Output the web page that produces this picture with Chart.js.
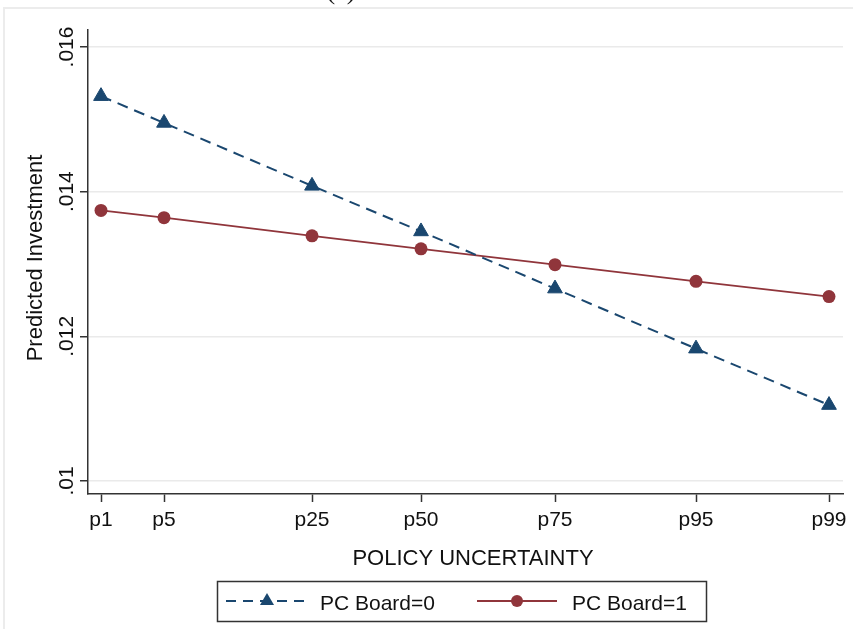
<!DOCTYPE html>
<html>
<head>
<meta charset="utf-8">
<script src="https://cdn.jsdelivr.net/npm/chart.js@4.4.1/dist/chart.umd.min.js"></script>
<style>
html, body { margin: 0; padding: 0; background: #fff; }
#wrap { position: relative; width: 853px; height: 629px; overflow: hidden; }
#frame { position: absolute; left: 3px; top: 7px; right: -5px; bottom: -5px; border-top: 2px solid #ececec; border-left: 2px solid #ececec; }
canvas { position: absolute; left: 0; top: 0; }
</style>
</head>
<body>
<div id="wrap">
  <div id="frame"></div>
  <canvas id="chart" width="853" height="629"></canvas>
</div>
<script>
// percentiles of policy uncertainty shown on the x axis
const categories = ['p1', 'p5', 'p25', 'p50', 'p75', 'p95', 'p99'];
// where each percentile sits on the (linear) uncertainty scale
const uncertaintyPos = [0, 63, 211, 320, 454, 595, 728];

// predicted investment
const pcBoard0 = [0.01532, 0.01495, 0.01408, 0.01345, 0.01266, 0.01183, 0.01105];
const pcBoard1 = [0.01374, 0.01364, 0.01339, 0.01321, 0.01299, 0.01276, 0.01255];

const yTicks = [0.010, 0.012, 0.014, 0.016];
const yTickLabels = ['.01', '.012', '.014', '.016'];

const NAVY = '#1a476f';
const MAROON = '#90353b';
const FONT = '"Liberation Sans", Arial, sans-serif';

function points(vals) {
    return vals.map((v, i) => ({ x: uncertaintyPos[i], y: v }));
}

// rotated y tick labels, axis titles, boxed legend
const stataExtras = {
    id: 'stataExtras',
    afterDraw: (chart) => {
        const ctx = chart.ctx;
        const area = chart.chartArea;
        const yAxis = chart.scales.y;
        ctx.save();
        ctx.fillStyle = '#111';

        // y tick labels, reading bottom to top
        ctx.font = '21px ' + FONT;
        ctx.textAlign = 'center';
        ctx.textBaseline = 'alphabetic';
        yTicks.forEach((v, i) => {
            ctx.save();
            ctx.translate(73, yAxis.getPixelForValue(v));
            ctx.rotate(-Math.PI / 2);
            ctx.fillText(yTickLabels[i], 0, 0);
            ctx.restore();
        });

        // axis titles
        ctx.font = '22px ' + FONT;
        ctx.save();
        ctx.translate(42, (area.top + area.bottom) / 2 - 4);
        ctx.rotate(-Math.PI / 2);
        ctx.fillText('Predicted Investment', 0, 0);
        ctx.restore();
        ctx.fillText('POLICY UNCERTAINTY', 473, 565);

        // cut-off panel caption at the very top
        ctx.font = '26px "Liberation Serif", serif';
        ctx.fillText('(a)', 341, -1);

        // legend
        ctx.strokeStyle = '#333';
        ctx.lineWidth = 1.5;
        ctx.strokeRect(217.5, 581.5, 489, 40);
        const ly = 601;

        ctx.strokeStyle = NAVY;
        ctx.lineWidth = 2;
        ctx.setLineDash([10, 7]);
        ctx.beginPath();
        ctx.moveTo(226, ly);
        ctx.lineTo(307, ly);
        ctx.stroke();
        ctx.setLineDash([]);
        ctx.fillStyle = NAVY;
        ctx.beginPath();
        ctx.moveTo(267, ly - 8);
        ctx.lineTo(267 + 7, ly + 4);
        ctx.lineTo(267 - 7, ly + 4);
        ctx.closePath();
        ctx.fill();

        ctx.strokeStyle = MAROON;
        ctx.beginPath();
        ctx.moveTo(477, ly);
        ctx.lineTo(557, ly);
        ctx.stroke();
        ctx.fillStyle = MAROON;
        ctx.beginPath();
        ctx.arc(517, ly, 6, 0, Math.PI * 2);
        ctx.fill();

        ctx.fillStyle = '#111';
        ctx.font = '21px ' + FONT;
        ctx.textAlign = 'left';
        ctx.fillText('PC Board=0', 320, 610);
        ctx.fillText('PC Board=1', 572, 610);
        ctx.restore();
    }
};

new Chart(document.getElementById('chart').getContext('2d'), {
    type: 'line',
    data: {
        datasets: [{
            label: 'PC Board=0',
            data: points(pcBoard0),
            borderColor: NAVY,
            backgroundColor: NAVY,
            borderWidth: 2,
            borderDash: [11, 7],
            pointStyle: 'triangle',
            pointRadius: 8.5,
            pointBorderWidth: 1,
            tension: 0
        }, {
            label: 'PC Board=1',
            data: points(pcBoard1),
            borderColor: MAROON,
            backgroundColor: MAROON,
            borderWidth: 1.8,
            pointStyle: 'circle',
            pointRadius: 6.5,
            pointBorderWidth: 0,
            tension: 0
        }]
    },
    options: {
        responsive: false,
        animation: false,
        devicePixelRatio: 1,
        layout: {
            padding: { left: 0, right: 10, top: 30, bottom: 0 }
        },
        scales: {
            x: {
                type: 'linear',
                min: -13,
                max: 742,
                afterBuildTicks: (s) => { s.ticks = uncertaintyPos.map(v => ({ value: v })); },
                afterFit: (s) => { s.height = 135; },
                ticks: {
                    autoSkip: false,
                    maxRotation: 0,
                    padding: 6,
                    color: '#111',
                    font: { family: FONT, size: 21 },
                    callback: (value, index) => categories[index]
                },
                grid: {
                    drawOnChartArea: false,
                    drawTicks: true,
                    tickLength: 8,
                    tickColor: '#333',
                    tickWidth: 1.5
                },
                border: { color: '#333', width: 1.5 }
            },
            y: {
                min: 0.01 - 13 / 72500,
                max: 0.016 + 17 / 72500,
                afterBuildTicks: (s) => { s.ticks = yTicks.map(v => ({ value: v })); },
                afterFit: (s) => { s.width = 88; },
                ticks: { display: false },
                grid: {
                    color: '#eaeaea',
                    lineWidth: 1.5,
                    drawTicks: true,
                    tickLength: 8,
                    tickColor: '#333',
                    tickWidth: 1.5
                },
                border: { color: '#333', width: 1.5 }
            }
        },
        plugins: {
            legend: { display: false },
            tooltip: { enabled: false }
        }
    },
    plugins: [stataExtras]
});
</script>
</body>
</html>
